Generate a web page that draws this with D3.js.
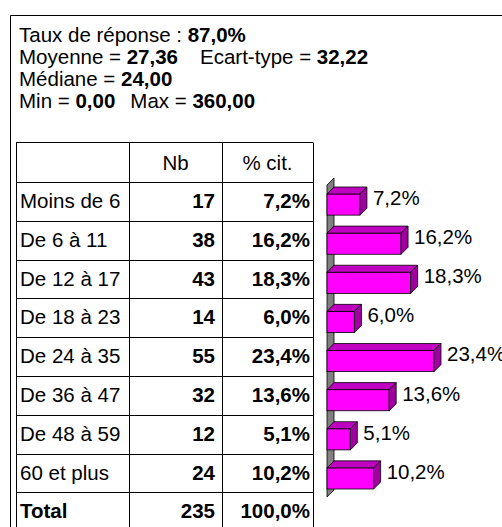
<!DOCTYPE html>
<html>
<head>
<meta charset="utf-8">
<script src="https://cdn.jsdelivr.net/npm/d3@7"></script>
<style>
  body { margin: 0; background: #fff; }
  svg { display: block; font-family: "Liberation Sans", Arial, sans-serif; }
</style>
</head>
<body>
<div id="chart"></div>
<script>
// Data
var categories = ["Moins de 6", "De 6 à 11", "De 12 à 17", "De 18 à 23",
                  "De 24 à 35", "De 36 à 47", "De 48 à 59", "60 et plus"];
var counts = [17, 38, 43, 14, 55, 32, 12, 24];
var percents = [7.2, 16.2, 18.3, 6.0, 23.4, 13.6, 5.1, 10.2];
var totalCount = 235;
var totalPercent = 100.0;
var headerCols = ["", "Nb", "% cit."];

var responseRate = 87.0;
var mean = 27.36, stdDev = 32.22, median = 24.00, minVal = 0.00, maxVal = 360.00;

var width = 502, height = 527;
var fr = d3.formatLocale({ decimal: ",", thousands: " ", grouping: [3], currency: ["", " €"] });
var f1 = fr.format(".1f"), f2 = fr.format(".2f");

var svg = d3.select("#chart").append("svg")
  .attr("width", width)
  .attr("height", height);

// outer frame (top and left edges only visible)
svg.append("path")
  .attr("d", "M10.5," + height + "V15.5H" + width)
  .attr("fill", "none")
  .attr("stroke", "#000")
  .attr("stroke-width", 1);

// stats block
var fontSize = 20.5;
var statLines = [
  [{ t: "Taux de réponse : " }, { t: f1(responseRate) + "%", b: true }],
  [{ t: "Moyenne = " }, { t: f2(mean), b: true }, { t: "Ecart-type = ", dx: 22 }, { t: f2(stdDev), b: true }],
  [{ t: "Médiane = " }, { t: f2(median), b: true }],
  [{ t: "Min = " }, { t: f2(minVal), b: true }, { t: "Max = ", dx: 15 }, { t: f2(maxVal), b: true }]
];

svg.append("g")
  .selectAll("text")
  .data(statLines)
  .enter()
  .append("text")
  .attr("x", 19)
  .attr("y", function (_, i) { return 42 + i * 22; })
  .attr("font-size", fontSize)
  .attr("fill", "#000")
  .each(function (parts) {
    var t = d3.select(this);
    parts.forEach(function (p) {
      t.append("tspan")
        .attr("dx", p.dx || null)
        .attr("font-weight", p.b ? "bold" : null)
        .text(p.t);
    });
  });

// table
var colX = [16, 129, 222, 313];
var tableTop = 142, headerH = 40, rowH = 38.8;
var rows = categories.map(function (c, i) {
  return { cells: [c, String(counts[i]), f1(percents[i]) + "%"], total: false };
});
rows.push({ cells: ["Total", String(totalCount), f1(totalPercent) + "%"], total: true });

var rowTop = function (i) { return tableTop + headerH + i * rowH; };
var tableBottom = rowTop(rows.length);

var table = svg.append("g").attr("class", "table");

// horizontal lines
var hLines = [tableTop];
for (var i = 0; i <= rows.length; i++) hLines.push(rowTop(i));
table.selectAll(".hline")
  .data(hLines)
  .enter()
  .append("line")
  .attr("x1", colX[0]).attr("x2", colX[3])
  .attr("y1", function (d) { return Math.round(d) + 0.5; })
  .attr("y2", function (d) { return Math.round(d) + 0.5; })
  .attr("stroke", "#000");

// vertical lines
table.selectAll(".vline")
  .data(colX)
  .enter()
  .append("line")
  .attr("x1", function (d) { return d + 0.5; })
  .attr("x2", function (d) { return d + 0.5; })
  .attr("y1", tableTop + 0.5)
  .attr("y2", tableBottom)
  .attr("stroke", "#000");

// header texts
table.selectAll(".head")
  .data(headerCols)
  .enter()
  .append("text")
  .attr("x", function (_, i) { return (colX[i] + colX[i + 1]) / 2; })
  .attr("y", tableTop + 28)
  .attr("text-anchor", "middle")
  .attr("font-size", fontSize)
  .text(function (d) { return d; });

// body rows
var rowG = table.selectAll(".row")
  .data(rows)
  .enter()
  .append("g")
  .attr("transform", function (_, i) { return "translate(0," + (rowTop(i) + 26) + ")"; });

rowG.append("text")
  .attr("x", colX[0] + 4)
  .attr("font-size", fontSize)
  .attr("font-weight", function (d) { return d.total ? "bold" : null; })
  .text(function (d) { return d.cells[0]; });

rowG.append("text")
  .attr("x", colX[2] - 7)
  .attr("text-anchor", "end")
  .attr("font-size", fontSize)
  .attr("font-weight", "bold")
  .text(function (d) { return d.cells[1]; });

rowG.append("text")
  .attr("x", colX[3] - 3)
  .attr("text-anchor", "end")
  .attr("font-size", fontSize)
  .attr("font-weight", "bold")
  .text(function (d) { return d.cells[2]; });

// 3D bar chart
var depth = 7;
var x = d3.scaleLinear().domain([0, 25]).range([327, 327 + 114.3]);
var y = d3.scaleBand().domain(categories).range([185, 498]).paddingInner(0.46).paddingOuter(0.23);

var chart = svg.append("g").attr("class", "bars");

// grey wall
var wTop = y.range()[0], wBot = y.range()[1] - 1, x0 = x(0);
chart.append("polygon")
  .attr("points", [[x0, wTop], [x0 + depth, wTop - depth], [x0 + depth, wBot - depth], [x0, wBot]].join(" "))
  .attr("fill", "#808080")
  .attr("stroke", "#000")
  .attr("stroke-width", 0.8);

var bar = chart.selectAll(".bar")
  .data(percents)
  .enter()
  .append("g")
  .attr("class", "bar");

// front face
bar.append("rect")
  .attr("x", x0)
  .attr("y", function (_, i) { return y(categories[i]); })
  .attr("width", function (d) { return x(d) - x0; })
  .attr("height", y.bandwidth())
  .attr("fill", "#ff00ff")
  .attr("stroke", "#000")
  .attr("stroke-width", 0.8);

// top face
bar.append("polygon")
  .attr("points", function (d, i) {
    var yt = y(categories[i]), xe = x(d);
    return [[x0, yt], [x0 + depth, yt - depth], [xe + depth, yt - depth], [xe, yt]].join(" ");
  })
  .attr("fill", "#c000c0")
  .attr("stroke", "#000")
  .attr("stroke-width", 0.8);

// side face
bar.append("polygon")
  .attr("points", function (d, i) {
    var yt = y(categories[i]), yb = yt + y.bandwidth(), xe = x(d);
    return [[xe, yt], [xe + depth, yt - depth], [xe + depth, yb - depth], [xe, yb]].join(" ");
  })
  .attr("fill", "#a000a0")
  .attr("stroke", "#000")
  .attr("stroke-width", 0.8);

// value labels
bar.append("text")
  .attr("x", function (d) { return x(d) + depth + 6; })
  .attr("y", function (_, i) { return y(categories[i]) + 11; })
  .attr("font-size", fontSize)
  .text(function (d) { return f1(d) + "%"; });
</script>
</body>
</html>
